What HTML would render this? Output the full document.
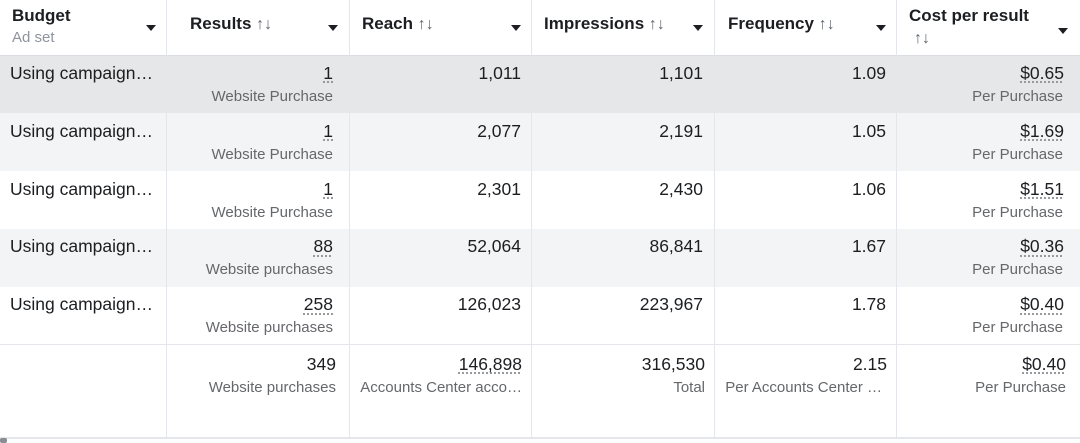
<!DOCTYPE html><html><head><meta charset="utf-8"><style>
body{margin:0;width:1080px;height:443px;background:#fff;font-family:"Liberation Sans",sans-serif;color:#1c1e21;position:relative;overflow:hidden}
.r{position:absolute;left:0;width:1080px}
.v{position:absolute;top:0;width:1px;height:437px;background:#e4e6eb}
.h{position:absolute;left:0;width:1080px;height:1px;background:#dadde1}
.t{position:absolute;font-size:17.5px;white-space:nowrap}
.s{position:absolute;font-size:15px;color:#65676b;white-space:nowrap}
.hd{position:absolute;font-size:17px;font-weight:bold;white-space:nowrap}
.ar{font-size:16px;color:#606770;font-weight:bold}
.tri{position:absolute;width:0;height:0;border-left:5px solid transparent;border-right:5px solid transparent;border-top:6px solid #1c1e21}
.u{text-decoration:underline dotted #8a8d91;text-underline-offset:3px}
</style></head><body>
<div class="r" style="top:55px;height:58px;background:#e6e7e9"></div>
<div class="r" style="top:113px;height:58px;background:#f2f4f5"></div>
<div class="r" style="top:229px;height:58px;background:#f2f4f5"></div>
<div class="h" style="top:55px"></div>
<div class="h" style="top:344px;background:#e4e6eb"></div>
<div class="h" style="top:437px;height:2px;background:#e4e6eb"></div>
<div style="position:absolute;left:0;top:438px;width:7px;height:5px;background:#8a8d91;border-radius:2px"></div>
<div class="v" style="left:166px"></div><div class="v" style="left:349px"></div><div class="v" style="left:531px"></div><div class="v" style="left:714px"></div><div class="v" style="left:896px"></div>

<div class="hd" style="left:12px;top:6px">Budget</div>
<div class="s" style="left:12px;top:29px;color:#8d949e">Ad set</div>
<div class="tri" style="left:146px;top:25px"></div>
<div class="hd" style="left:190px;top:14px">Results <span class="ar">↑↓</span></div>
<div class="tri" style="left:328px;top:25px"></div>
<div class="hd" style="left:362px;top:14px">Reach <span class="ar">↑↓</span></div>
<div class="tri" style="left:511px;top:25px"></div>
<div class="hd" style="left:544px;top:14px">Impressions <span class="ar">↑↓</span></div>
<div class="tri" style="left:693px;top:25px"></div>
<div class="hd" style="left:728px;top:14px">Frequency <span class="ar">↑↓</span></div>
<div class="tri" style="left:876px;top:25px"></div>
<div class="hd" style="left:909px;top:6px">Cost per result</div>
<div class="ar" style="position:absolute;left:914px;top:30px">↑↓</div>
<div class="tri" style="left:1058px;top:28px"></div>

<div id="rows"></div>
<script>
var d=[["1","Website Purchase","1,011","1,101","1.09","$0.65"],["1","Website Purchase","2,077","2,191","1.05","$1.69"],["1","Website Purchase","2,301","2,430","1.06","$1.51"],["88","Website purchases","52,064","86,841","1.67","$0.36"],["258","Website purchases","126,023","223,967","1.78","$0.40"]];
var h="";
function rt(x,y,txt,cls,extra){return '<div class="'+cls+'" style="right:'+(1080-x)+'px;top:'+y+'px;'+(extra||'')+'">'+txt+'</div>';}
d.forEach(function(r,i){var y=55+i*57.8;
h+='<div class="t" style="left:10px;top:'+(y+8)+'px">Using campaign…</div>';
h+=rt(333,y+8,'<span class="u">'+r[0]+'</span>','t');
h+=rt(333,y+33,r[1],'s');
h+=rt(521,y+8,r[2],'t');h+=rt(703,y+8,r[3],'t');h+=rt(886,y+8,r[4],'t');
h+=rt(1064,y+8,'<span class="u">'+r[5]+'</span>','t');
h+=rt(1063,y+33,'Per Purchase','s');});
var y=344;
h+=rt(336,y+10,'349','t');h+=rt(336,y+35,'Website purchases','s');
h+=rt(522,y+10,'<span class="u">146,898</span>','t');h+=rt(522,y+35,'Accounts Center acco…','s');
h+=rt(705,y+10,'316,530','t');h+=rt(705,y+35,'Total','s');
h+=rt(887,y+10,'2.15','t');h+=rt(882,y+35,'Per Accounts Center …','s');
h+=rt(1066,y+10,'<span class="u">$0.40</span>','t');h+=rt(1066,y+35,'Per Purchase','s');
document.getElementById('rows').innerHTML=h;
</script>
</body></html>
